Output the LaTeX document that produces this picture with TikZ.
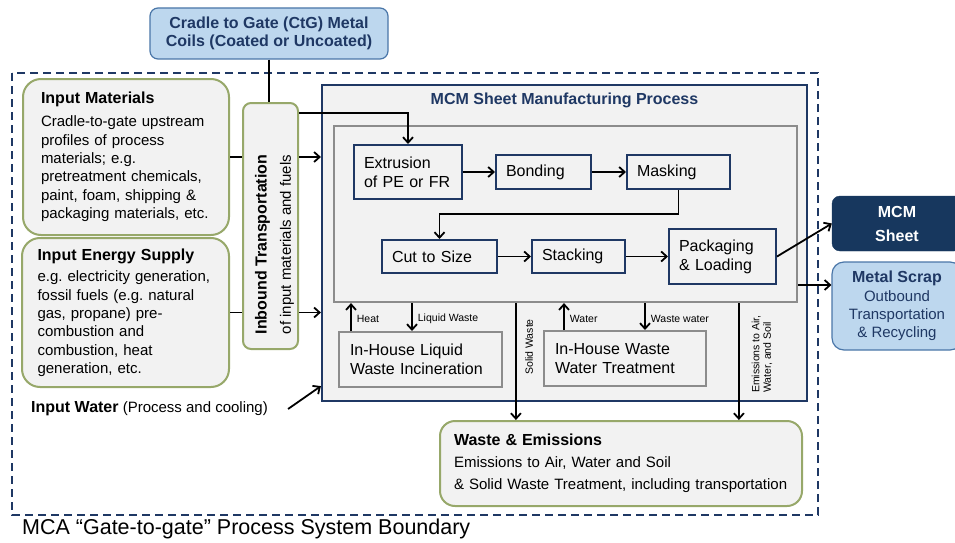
\documentclass[tikz,border=0pt]{standalone}
\usepackage{fontspec}
\setmainfont{Liberation Sans}
\usetikzlibrary{arrows.meta,positioning,calc}

\definecolor{navy}{HTML}{1F3864}
\definecolor{sheetblue}{HTML}{17375E}
\definecolor{paleblue}{HTML}{BDD7EE}
\definecolor{paleedge}{HTML}{4A76A8}
\definecolor{sage}{HTML}{97A86A}
\definecolor{boxgray}{HTML}{F2F2F2}
\definecolor{edgegray}{HTML}{8C8C8C}

\newcommand{\heading}[1]{{\bfseries\fontsize{16}{19}\selectfont #1}}
\frenchspacing

\tikzset{
  boundary/.style={draw=navy, line width=1.8pt, dash pattern=on 8pt off 5pt},
  greenbox/.style={draw=sage, line width=2pt, fill=boxgray, rounded corners=18pt, align=left, font=\fontsize{15}{18.3}\selectfont},
  bluebox/.style={draw=paleedge, line width=1.2pt, fill=paleblue, rounded corners=8pt, align=center, text=navy},
  stepbox/.style={draw=navy, line width=2pt, fill=boxgray, align=left, inner xsep=10pt, font=\fontsize{16}{19}\selectfont},
  graybox/.style={draw=edgegray, line width=2pt, fill=boxgray, align=left, inner xsep=11pt, font=\fontsize{16}{19}\selectfont},
  tag/.style={font=\fontsize{10.5}{11.5}\selectfont, inner sep=0pt},
  flow/.style={->, line width=1.8pt},
  link/.style={line width=1.8pt}
}

\begin{document}
\begin{tikzpicture}[x=1pt, y=-1pt, >={Straight Barb[length=5.5pt, width=10pt]}]
\useasboundingbox (0,0) rectangle (955,543);
\clip (0,0) rectangle (955,543);

% system boundary
\draw[boundary] (12,73) rectangle (818,515);
\node[anchor=west, inner sep=0pt, font=\fontsize{21.5}{24}\selectfont] (boundlabel) at (22,529) {MCA “Gate-to-gate” Process System Boundary};

% CtG coils
\node[bluebox, minimum width=238pt, minimum height=51pt, font=\bfseries\fontsize{16}{18.5}\selectfont] (ctg) at (269,33.5) {Cradle to Gate (CtG) Metal\\Coils (Coated or Uncoated)};

% Input materials
\node[greenbox, minimum width=206pt, minimum height=156pt, text width=170pt] (inmat) at (126,157) {\heading{Input Materials}\\[4.7pt]
Cradle-to-gate upstream\\ profiles of process\\ materials; e.g.\\ pretreatment chemicals,\\ paint, foam, shipping \&\\ packaging materials, etc.};

% Input energy supply
\node[greenbox, minimum width=207pt, minimum height=149pt, text width=176pt] (inenergy) at (125.5,312.5) {\heading{Input Energy Supply}\\[3.4pt]
e.g. electricity generation,\\ fossil fuels (e.g. natural\\ gas, propane) pre-\\ combustion and\\ combustion, heat\\ generation, etc.};

% Inbound transportation
\node[draw=sage, line width=2pt, fill=boxgray, rounded corners=8pt, minimum width=55pt, minimum height=246pt] (inbound) at (270.5,226) {};
\node[rotate=90, align=left, font=\fontsize{15}{18.3}\selectfont] (inboundtxt) at (274.5,244.5) {\heading{Inbound Transportation}\\[6pt] of input materials and fuels};

% MCM process
\node[draw=navy, line width=2.2pt, fill=boxgray, minimum width=485pt, minimum height=316pt] (mcm) at (564.5,243) {};
\node[text=navy, font=\bfseries\fontsize{16}{19}\selectfont] (mcmtitle) at (564.5,100) {MCM Sheet Manufacturing Process};
\node[draw=edgegray, line width=2.2pt, minimum width=463pt, minimum height=176pt] (inner) at (565.5,214) {};

% process steps
\node[stepbox, minimum width=108pt, minimum height=54pt, text width=88pt] (extr) at (408,172) {Extrusion\\of PE or FR};
\node[stepbox, minimum width=95pt, minimum height=34pt, text width=75pt, right=32pt of extr] (bond) {Bonding};
\node[stepbox, minimum width=103pt, minimum height=34pt, text width=83pt, right=34pt of bond] (mask) {Masking};
\node[stepbox, minimum width=115pt, minimum height=33pt, text width=95pt] (cut) at (439.5,256.5) {Cut to Size};
\node[stepbox, minimum width=93pt, minimum height=33pt, text width=73pt, right=33pt of cut] (stack) {Stacking};
\node[stepbox, minimum width=107pt, minimum height=55pt, text width=87pt, right=42pt of stack] (pack) {Packaging\\\& Loading};

% in-house treatment
\node[graybox, minimum width=163pt, minimum height=55pt, text width=141pt] (liqinc) at (420.5,359.5) {In-House Liquid\\Waste Incineration};
\node[graybox, minimum width=162pt, minimum height=55pt, text width=140pt] (wwt) at (625,358.5) {In-House Waste\\Water Treatment};

% Waste & emissions
\node[greenbox, rounded corners=15pt, minimum width=362pt, minimum height=85pt, text width=334pt, inner xsep=14pt, font=\fontsize{15}{22}\selectfont] (waste) at (621,463.5) {\heading{Waste \& Emissions}\\ Emissions to Air, Water and Soil\\ \& Solid Waste Treatment, including transportation};

% outputs
\node[fill=sheetblue, draw=sheetblue, rounded corners=8pt, minimum width=130pt, minimum height=55pt, align=center, text=white, font=\bfseries\fontsize{16}{24}\selectfont] (sheet) at (897,223.5) {MCM\\Sheet};
\node[bluebox, rounded corners=12pt, minimum width=130pt, minimum height=88pt, font=\fontsize{15}{18.3}\selectfont] (scrap) at (897,306) {\heading{Metal Scrap}\\ Outbound\\ Transportation\\ \& Recycling};

% input water
\node[anchor=west, inner sep=0pt, font=\fontsize{15}{18}\selectfont] (water) at (31,409) {\heading{Input Water} (Process and cooling)};

% connectors
\draw[link] (ctg.south) -- (ctg.south |- inbound.north);
\draw[link] (inmat.east) -- (inbound.west |- inmat.east);
\draw[link] (inenergy.east) -- (inbound.west |- inenergy.east);
\draw[flow] (inbound.east |- inmat.east) -- (mcm.west |- inmat.east);
\draw[flow] (inbound.east |- inenergy.east) -- (mcm.west |- inenergy.east);
\draw[flow] ([yshift=-11pt]inbound.north east) -| (extr.north);
\draw[flow] (extr) -- (bond);
\draw[flow] (bond) -- (mask);
\draw[flow] (mask.south) -- ++(0,24) -| (cut.north);
\draw[flow] (cut) -- (stack);
\draw[flow] (stack) -- (pack);
\draw[flow] (pack.east) -- (sheet.west);
\draw[flow] (inner.east |- pack.south) -- (scrap.west |- pack.south);
\draw[flow] ([xshift=20pt]water.east) -- ([yshift=16pt]mcm.south west);

% side streams
\draw[flow] ([xshift=13pt]liqinc.north west) -- ([xshift=13pt]liqinc.north west |- inner.south) node[tag, midway, right=5pt, yshift=-2pt] (heatlab) {Heat};
\draw[flow] ([xshift=74pt]liqinc.north west |- inner.south) -- ([xshift=74pt]liqinc.north west) node[tag, midway, right=5pt, yshift=-2pt] (liqlab) {Liquid Waste};
\draw[flow] ([xshift=21pt]wwt.north west) -- ([xshift=21pt]wwt.north west |- inner.south) node[tag, midway, right=5pt, yshift=-2pt] (waterlab) {Water};
\draw[flow] ([xshift=102pt]wwt.north west |- inner.south) -- ([xshift=102pt]wwt.north west) node[tag, midway, right=5pt, yshift=-2pt] (wastewlab) {Waste water};
\draw[flow] ([xshift=183pt]inner.south west) -- ([xshift=183pt]inner.south west |- waste.north);
\node[tag, rotate=90] (solidlab) at (529,347) {Solid Waste};
\draw[flow] ([xshift=406pt]inner.south west) -- ([xshift=406pt]inner.south west |- waste.north);
\node[tag, rotate=90, align=left] (emislab) at (762,354) {Emissions to Air,\\Water, and Soil};
\end{tikzpicture}
\end{document}
